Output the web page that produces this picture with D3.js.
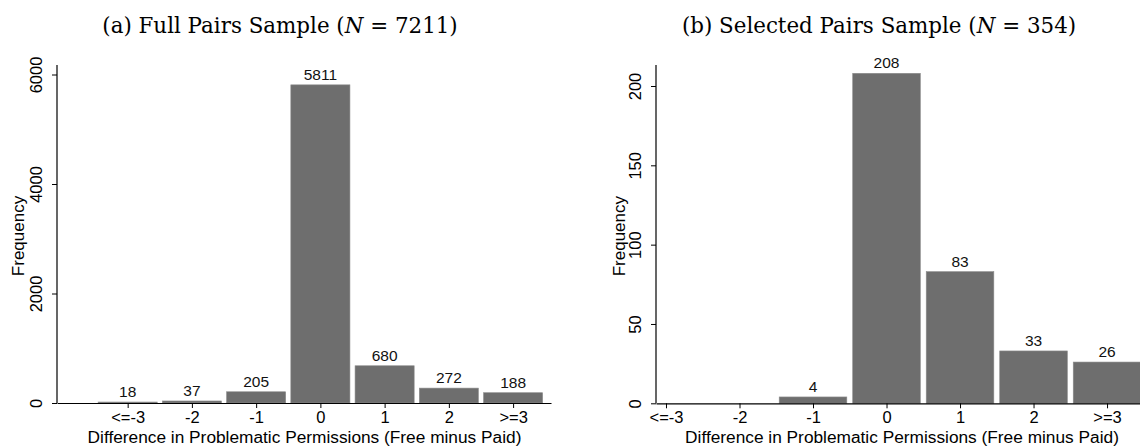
<!DOCTYPE html>
<html>
<head>
<meta charset="utf-8">
<script src="https://cdn.jsdelivr.net/npm/d3@7"></script>
<style>
  html, body { margin: 0; padding: 0; background: #fff; }
  svg { display: block; }
</style>
</head>
<body>
<svg id="chart" width="1140" height="447"></svg>
<script>
// Difference categories (free minus paid problematic permissions)
const categories = ["<=-3", "-2", "-1", "0", "1", "2", ">=3"];
// Frequencies per category
const fullPairs = [18, 37, 205, 5811, 680, 272, 188];
const selectedPairs = [0, 0, 4, 208, 83, 33, 26];
// Y axis tick values
const fullTicks = [0, 2000, 4000, 6000];
const selectedTicks = [0, 50, 100, 150, 200];
// Panel titles
const titles = [
  { prefix: "(a) Full Pairs Sample (", n: "7211" },
  { prefix: "(b) Selected Pairs Sample (", n: "354" }
];
const xTitle = "Difference in Problematic Permissions (Free minus Paid)";
const yTitle = "Frequency";

const svg = d3.select("#chart");
const sans = "'Liberation Sans', Arial, Helvetica, sans-serif";
const serif = "'DejaVu Serif', 'Liberation Serif', serif";
const barColor = "#6e6e6e";

const panels = [
  {
    values: fullPairs, ticks: fullTicks,
    xDomain: [-1.1, 6.59], xRange: [57, 551],
    yDomain: [0, 6000], yRange: [403, 74.5], yTop: 65,
    titleX: 280, yTitleX: 24, tickShift: -15, xTitleX: 304.5
  },
  {
    values: selectedPairs, ticks: selectedTicks,
    xDomain: [-0.136, 6.7], xRange: [656, 1158.5],
    yDomain: [0, 200], yRange: [403.3, 86], yTop: 65,
    titleX: 879, yTitleX: 625, tickShift: -15, xTitleX: 902
  }
];

panels.forEach(p => {
  const g = svg.append("g");
  const x = d3.scaleLinear().domain(p.xDomain).range(p.xRange);
  const y = d3.scaleLinear().domain(p.yDomain).range(p.yRange);
  const half = 0.46;
  const y0 = y(0);

  // bars
  const data = p.values.map((v, i) => ({ v, i }));
  g.selectAll("rect.bar")
    .data(data.filter(d => d.v > 0))
    .join("rect")
    .attr("class", "bar")
    .attr("x", d => x(d.i - half))
    .attr("width", d => x(d.i + half) - x(d.i - half))
    .attr("y", d => y(d.v))
    .attr("height", d => y0 - y(d.v))
    .attr("fill", barColor)
    .attr("stroke", "#8c8c8c")
    .attr("stroke-width", 0.6);

  // value labels
  g.selectAll("text.val")
    .data(data.filter(d => d.v > 0))
    .join("text")
    .attr("class", "val")
    .attr("x", d => x(d.i))
    .attr("y", d => y(d.v) - 5)
    .attr("text-anchor", "middle")
    .attr("font-family", sans)
    .attr("font-size", 15.5)
    .attr("fill", "#111")
    .text(d => d.v);

  // x axis
  const xAxis = d3.axisBottom(x)
    .tickValues(d3.range(categories.length))
    .tickFormat(i => categories[i])
    .tickSize(5)
    .tickSizeOuter(0);
  const xg = g.append("g").attr("transform", `translate(0,${y0})`).call(xAxis)
    .attr("font-family", sans);
  xg.select(".domain").attr("stroke", "#000").attr("stroke-width", 1.2);
  xg.selectAll(".tick line").attr("stroke", "#000");
  xg.selectAll(".tick text")
    .attr("font-size", 16.5)
    .attr("fill", "#000")
    .attr("dy", 0)
    .attr("y", 20);

  // y axis
  const yAxis = d3.axisLeft(y)
    .tickValues(p.ticks)
    .tickFormat(d3.format("d"))
    .tickSize(5)
    .tickSizeOuter(0);
  const yg = g.append("g").attr("transform", `translate(${p.xRange[0]},0)`).call(yAxis)
    .attr("font-family", sans);
  yg.select(".domain").attr("d", `M0,${y0}V${p.yTop}`).attr("stroke", "#000").attr("stroke-width", 1.2);
  yg.selectAll(".tick line").attr("stroke", "#000");
  yg.selectAll(".tick text")
    .attr("x", 0).attr("dy", 0)
    .attr("text-anchor", "middle")
    .attr("font-size", 16.5)
    .attr("fill", "#000")
    .attr("transform", `translate(${p.tickShift},0) rotate(-90)`);

  // axis titles
  g.append("text")
    .attr("transform", `translate(${p.yTitleX},${(y0 + p.yTop) / 2 + 2}) rotate(-90)`)
    .attr("text-anchor", "middle")
    .attr("font-family", sans)
    .attr("font-size", 17)
    .text(yTitle);

  g.append("text")
    .attr("x", p.xTitleX)
    .attr("y", 443)
    .attr("text-anchor", "middle")
    .attr("font-family", sans)
    .attr("font-size", 17.3)
    .text(xTitle);
});

// panel titles
panels.forEach((p, k) => {
  const t = svg.append("text")
    .attr("x", p.titleX)
    .attr("y", 33)
    .attr("text-anchor", "middle")
    .attr("font-family", serif)
    .attr("font-size", 21.4);
  t.append("tspan").text(titles[k].prefix);
  t.append("tspan").attr("font-style", "italic").text("N");
  t.append("tspan").text(" = " + titles[k].n + ")");
});
</script>
</body>
</html>
